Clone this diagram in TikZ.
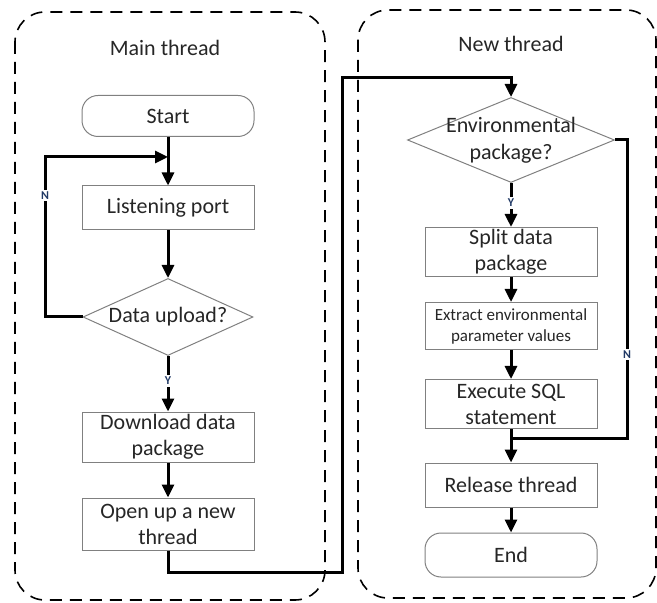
\documentclass[tikz,border=0pt]{standalone}
\usepackage{fontspec}
\setmainfont{Carlito}
\usetikzlibrary{shapes.geometric,arrows.meta}
\definecolor{txtgray}{RGB}{38,38,38}
\definecolor{lblblue}{RGB}{31,56,100}
\begin{document}
\begin{tikzpicture}[
            x=0.5pt, y=-0.5pt,
            >={Triangle[length=6.5pt,width=6pt]},
            font=\fontsize{11}{13}\selectfont,
            lane/.style={draw, dash pattern=on 6pt off 4pt, line width=0.8pt, rounded corners=15pt},
            procbox/.style={rectangle, draw=gray, line width=0.5pt, minimum width=86pt, inner sep=1pt, align=center, text=txtgray},
            termbox/.style={procbox, rounded corners=8pt},
            decision/.style={diamond, aspect=2.3, draw=gray, line width=0.5pt, inner sep=0pt, align=center, text=txtgray},
            flow/.style={->, line width=1.5pt},
            yn/.style={font=\fontsize{6}{7}\selectfont\bfseries, text=lblblue, fill=white, inner sep=1pt}
        ]
		\useasboundingbox (0,0) rectangle (657,603);
		
		%Lanes
		\draw[lane] (15,12) rectangle (325,600);
		\draw[lane] (358,10) rectangle (656,598);
		\node[text=txtgray] (maintitle) at (165,48) {Main thread};
		\node[text=txtgray] (newtitle) at (511,44) {New thread};
		
		%Main thread
		\node[termbox, minimum height=20.5pt] (start) at (168,116) {Start};
		\node[procbox, minimum height=22pt] (listen) at (168,208) {Listening port};
		\node[decision, minimum width=85pt, minimum height=38.5pt] (upload) at (168,317) {Data upload?};
		\node[procbox, minimum height=25pt] (download) at (168,437) {Download data\\package};
		\node[procbox, minimum height=26pt] (open) at (168,524) {Open up a new\\thread};
		
		%New thread
		\node[decision, minimum width=103.5pt, minimum height=42.5pt, inner sep=-8pt, font=\fontsize{11}{13.5}\selectfont] (envpkg) at (511,140) {Environmental\\package?};
		\node[procbox, minimum height=24.5pt] (split) at (511,252) {Split data\\package};
		\node[procbox, minimum height=23.5pt, font=\fontsize{8.5}{10.5}\selectfont] (extract) at (511,326) {Extract environmental\\parameter values};
		\node[procbox, minimum height=24.5pt] (sql) at (511,404) {Execute SQL\\statement};
		\node[procbox, minimum height=22pt] (release) at (511,485) {Release thread};
		\node[termbox, minimum height=22pt] (end) at (511,555) {End};
		
		%Connectors
		\coordinate (nbot) at (45,317);
		\coordinate (ntop) at (45,157);
		\coordinate (cross1) at (342,572);
		\coordinate (cross2) at (342,78);
		\coordinate (nturn) at (627,140);
		\coordinate (njoin) at (627,438);
		
		\draw[flow] (start) -- (listen);
		\draw[flow] (listen) -- (upload);
		\draw[flow] (upload) -- node[yn, pos=0.45] {Y} (download);
		\draw[flow] (download) -- (open);
		\draw[flow] (upload.west) -- (nbot) -- node[yn, pos=0.76] {N} (ntop) -- (ntop -| listen.north);
		\draw[flow] (open.south) |- (cross1) -- (cross2) -| (envpkg.north);
		
		\draw[flow] (envpkg) -- node[yn, pos=0.45] {Y} (split);
		\draw[flow] (split) -- (extract);
		\draw[flow] (extract) -- (sql);
		\draw[flow] (sql) -- (release);
		\draw[flow] (release) -- (end);
		\draw[line width=1.5pt] (envpkg.east) -- (nturn) -- node[yn, pos=0.72] {N} (njoin) -- (njoin -| sql.south);
    \end{tikzpicture}
\end{document}
